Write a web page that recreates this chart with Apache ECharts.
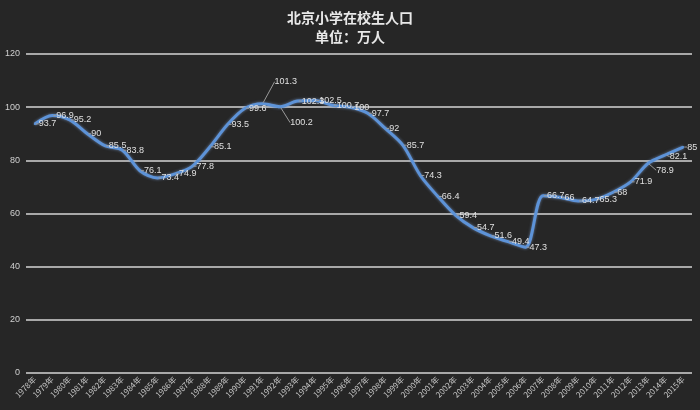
<!DOCTYPE html>
<html><head><meta charset="utf-8">
<script src="https://cdn.jsdelivr.net/npm/echarts@6/dist/echarts.min.js"></script>
<style>html,body{margin:0;padding:0;background:#262626;}#c{width:700px;height:410px;}</style>
</head><body><div id="c"></div>
<script>
const years = [];
for (let y = 1978; y <= 2015; y++) years.push(y + '年');
const values = [93.7, 96.9, 95.2, 90, 85.5, 83.8, 76.1, 73.4, 74.9, 77.8, 85.1, 93.5, 99.6, 101.3, 100.2, 102.3, 102.5, 100.7, 100, 97.7, 92, 85.7, 74.3, 66.4, 59.4, 54.7, 51.6, 49.4, 47.3, 66.7, 66, 64.7, 65.3, 68, 71.9, 78.9, 82.1, 85];
const yTicks = [0, 20, 40, 60, 80, 100, 120];
const moved = {13: {dx: 8, dy: -22}, 14: {dx: 6, dy: 16}, 35: {dx: 4, dy: 7}, 36: {dx: 0, dy: 2}};

const chart = echarts.init(document.getElementById('c'));
chart.setOption({
  backgroundColor: '#262626',
  animation: false,
  title: {
    text: '北京小学在校生人口\n单位：万人',
    left: 'center', top: 3,
    textStyle: {color: '#e8e8e8', fontSize: 14, fontWeight: 'bold', lineHeight: 19, fontFamily: 'Noto Sans CJK SC'}
  },
  grid: {left: 26, right: 8, top: 54, bottom: 37},
  xAxis: {
    type: 'category', data: years, boundaryGap: true,
    axisLine: {show: false}, axisTick: {show: false},
    axisLabel: {rotate: 45, color: '#c8c8c8', fontSize: 8, margin: 5, interval: 0, fontFamily: 'Noto Sans CJK SC'}
  },
  yAxis: {
    type: 'value', min: 0, max: 120, interval: 20,
    axisLine: {show: false}, axisTick: {show: false},
    axisLabel: {color: '#d0d0d0', fontSize: 9, margin: 6, formatter: v => yTicks.includes(v) ? String(v) : ''},
    splitLine: {lineStyle: {color: '#a8a8a8', width: 2}}
  },
  series: [{
    type: 'line', data: values,
    smooth: 0.3, symbol: 'circle', symbolSize: 2, showSymbol: true,
    itemStyle: {color: '#5d93d8'},
    lineStyle: {color: '#5d93d8', width: 3, shadowColor: 'rgba(140,180,240,0.6)', shadowBlur: 3},
    label: {show: true, position: 'right', distance: 3, offset: [1, 3], color: '#e0e0e0', fontSize: 9},
    labelLine: {show: true, lineStyle: {color: '#9a9a9a', width: 1}},
    labelLayout: p => moved[p.dataIndex] || {}
  }]
});
</script></body></html>
